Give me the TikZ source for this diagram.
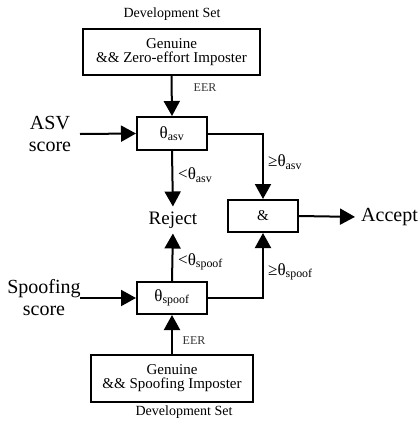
\documentclass[tikz,border=0pt]{standalone}
\usepackage{fontspec}
\setmainfont{Liberation Serif}
\usetikzlibrary{arrows.meta}
\newcommand{\fs}[1]{\fontsize{#1}{#1}\selectfont}
\begin{document}
\begin{tikzpicture}[x=1pt,y=-1pt,
  box/.style={draw,line width=2pt,inner sep=0pt},
  arr/.style={line width=2pt,-{Triangle[length=15pt,width=16pt]}},
  lbl/.style={inner sep=0pt,font=\fs{17}},
  small/.style={inner sep=0pt,font=\fs{12},text=black!80}]
\useasboundingbox (0,0) rectangle (420,424);
% development sets
\node[inner sep=0pt,font=\fs{14}] (dev1) at (172,14) {Development Set};
\node[box,minimum width=177pt,minimum height=46pt,align=center,font=\fs{15}] (box1) at (171.5,52) {Genuine\\[-1pt]\&\& Zero-effort Imposter};
\node[box,minimum width=70pt,minimum height=33pt,font=\fs{17}] (asv) at (172,133.5) {θ\textsubscript{asv}};
\node[box,minimum width=70pt,minimum height=32pt,font=\fs{15}] (and) at (263,216) {\&};
\node[box,minimum width=70pt,minimum height=32pt,font=\fs{17}] (spoof) at (172,298) {θ\textsubscript{spoof}};
\node[box,minimum width=162pt,minimum height=47pt,align=center,font=\fs{15}] (box2) at (172,378.5) {Genuine\\[-1pt]\&\& Spoofing Imposter};
\node[inner sep=0pt,font=\fs{14}] (dev2) at (184,412) {Development Set};
% texts
\node[inner sep=0pt,font=\fs{19}] (reject) at (173,220) {Reject};
\node[inner sep=0pt,anchor=west,font=\fs{20}] (accept) at (361,217) {Accept};
\node[inner sep=0pt,align=center,font=\fs{20}] (asvtext) at (50,134) {ASV\\[2pt]score};
\node[inner sep=0pt,align=center,font=\fs{20}] (spooftext) at (44,298) {Spoofing\\[2pt]score};
\coordinate (asvin) at (80,134);
\coordinate (spoofin) at (80,298);
% labels
\node[small] (eer1) at (205,88) {EER};
\node[small] (eer2) at (194,341) {EER};
\node[lbl,anchor=west] (l1) at (268,162) {≥θ\textsubscript{asv}};
\node[lbl,anchor=west] (l2) at (178,175) {<θ\textsubscript{asv}};
\node[lbl,anchor=west] (l3) at (178,262) {<θ\textsubscript{spoof}};
\node[lbl,anchor=west] (l4) at (268,272) {≥θ\textsubscript{spoof}};
% connectors
\draw[arr] (box1.south) -- (asv.north);
\draw[arr] (asvin) -- (asv.west);
\draw[arr] (spoofin) -- (spoof.west);
\draw[arr,shorten >=5pt] (asv.south) -- (reject.north);
\draw[arr,shorten >=5pt] (spoof.north) -- (reject.south);
\draw[arr] (asv.east) -| (and.north);
\draw[arr] (spoof.east) -| (and.south);
\draw[arr] (box2.north) -- (spoof.south);
\draw[arr,shorten >=6pt] (and.east) -- (accept.west);
\end{tikzpicture}
\end{document}
